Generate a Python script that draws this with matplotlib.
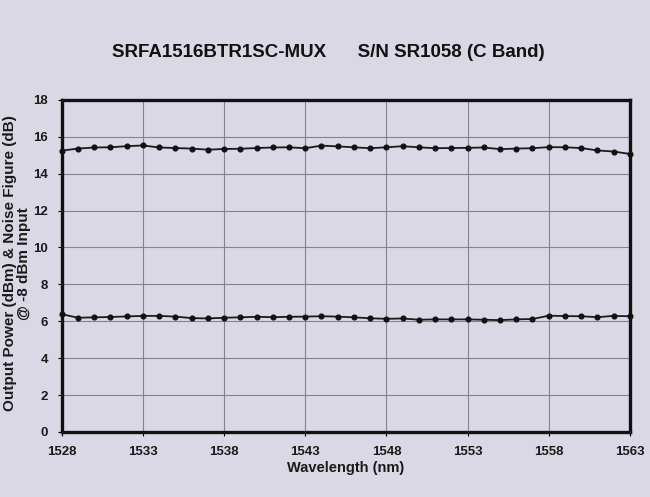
import numpy as np
import matplotlib.pyplot as plt

# wavelength grid, one reading per nm
wavelength = np.arange(1528, 1564)

# output power (dBm)
output_power = [15.25, 15.36, 15.42, 15.43, 15.49, 15.53, 15.42, 15.39, 15.36, 15.30,
                15.34, 15.35, 15.39, 15.42, 15.43, 15.38, 15.52, 15.48, 15.43, 15.38,
                15.43, 15.49, 15.43, 15.38, 15.39, 15.40, 15.42, 15.33, 15.36, 15.38,
                15.44, 15.43, 15.39, 15.26, 15.20, 15.07]

# noise figure (dB)
noise_figure = [6.38, 6.19, 6.21, 6.23, 6.26, 6.29, 6.29, 6.25, 6.17, 6.15,
                6.19, 6.21, 6.24, 6.22, 6.24, 6.25, 6.27, 6.25, 6.21, 6.16,
                6.13, 6.15, 6.08, 6.10, 6.10, 6.10, 6.08, 6.06, 6.10, 6.12,
                6.30, 6.28, 6.27, 6.22, 6.29, 6.27]

x_ticks = [1528, 1533, 1538, 1543, 1548, 1553, 1558, 1563]
y_ticks = [0, 2, 4, 6, 8, 10, 12, 14, 16, 18]

plt.rcParams['font.family'] = ['Liberation Sans', 'DejaVu Sans']

paper = '#dbd8e5'
fig = plt.figure(figsize=(6.5, 4.97), dpi=100, facecolor=paper)
ax = fig.add_axes([0.095, 0.131, 0.874, 0.668])
ax.set_facecolor(paper)

for series in (output_power, noise_figure):
    ax.plot(wavelength, series, color='#1a1a1a', lw=1.3, marker='o',
            markersize=3.4, markerfacecolor='#111111', markeredgecolor='#111111',
            clip_on=False, zorder=3)

ax.set_xlim(1528, 1563)
ax.set_ylim(0, 18)
ax.set_xticks(x_ticks)
ax.set_yticks(y_ticks)
ax.grid(True, color='#85838f', lw=0.8)
ax.set_axisbelow(True)

for s in ax.spines.values():
    s.set_linewidth(2.4)
    s.set_color('#111111')

ax.tick_params(axis='both', direction='out', length=3, width=0.8,
               labelsize=9.5, pad=7)
for lbl in ax.get_xticklabels() + ax.get_yticklabels():
    lbl.set_fontweight('bold')
    lbl.set_color('#1a1a1a')

ax.set_xlabel('Wavelength (nm)', fontsize=10.5, fontweight='bold', labelpad=2,
              color='#1a1a1a')

# two-line y label placed by hand so it sits clear of the tick labels
fig.text(0.026, 0.47, 'Output Power (dBm) & Noise Figure (dB)\n@ -8 dBm Input',
         rotation=90, ha='center', va='center', multialignment='center',
         fontsize=11, fontweight='bold', color='#1a1a1a', linespacing=1.05)

fig.text(0.505, 0.895, 'SRFA1516BTR1SC-MUX      S/N SR1058 (C Band)',
         ha='center', va='center', fontsize=13.5, fontweight='bold',
         color='#111111')

fig.savefig('out.png', dpi=100, facecolor=fig.get_facecolor())
